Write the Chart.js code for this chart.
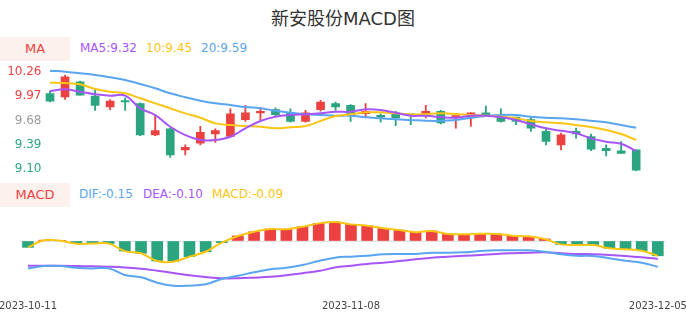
<!DOCTYPE html>
<html>
<head>
<meta charset="utf-8">
<script src="https://cdn.jsdelivr.net/npm/chart.js@4.4.0/dist/chart.umd.min.js"></script>
<style>
  html, body { margin: 0; padding: 0; background: #fff; }
  body { width: 686px; height: 320px; position: relative; overflow: hidden;
         font-family: "DejaVu Sans", "Noto Sans CJK SC", sans-serif; }
  #title { position: absolute; top: 4px; left: 0; width: 686px; text-align: center;
           font-size: 18px; color: #333; }
  .tag { position: absolute; left: 0; width: 70px; height: 24px; line-height: 24px;
         background: #fdf1ee; color: #ec4141; text-align: center; font-size: 13px; }
  .lg { position: absolute; font-size: 12px; white-space: nowrap; }
  canvas { position: absolute; }
</style>
</head>
<body>
<div id="title">新安股份MACD图</div>

<div class="tag" style="top:37px">MA</div>
<div class="lg" style="left:80px;top:41px;color:#a855f7">MA5:9.32</div>
<div class="lg" style="left:146px;top:41px;color:#fac515">10:9.45</div>
<div class="lg" style="left:201px;top:41px;color:#5aa5f0">20:9.59</div>

<div class="tag" style="top:183px">MACD</div>
<div class="lg" style="left:79px;top:187px;color:#5aa5f0">DIF:-0.15</div>
<div class="lg" style="left:143px;top:187px;color:#a855f7">DEA:-0.10</div>
<div class="lg" style="left:212px;top:187px;color:#fac515">MACD:-0.09</div>

<canvas id="kline" width="686" height="186" style="left:0;top:0"></canvas>
<canvas id="macdChart" width="726" height="120" style="left:-20px;top:200px"></canvas>

<script>
/* ── Data ───────────────────────────────────────────────────── */
const dates = [
    '2023-10-11', '2023-10-12', '2023-10-13', '2023-10-16', '2023-10-17', '2023-10-18', '2023-10-19',
    '2023-10-20', '2023-10-23', '2023-10-24', '2023-10-25', '2023-10-26', '2023-10-27', '2023-10-30',
    '2023-10-31', '2023-11-01', '2023-11-02', '2023-11-03', '2023-11-06', '2023-11-07', '2023-11-08',
    '2023-11-09', '2023-11-10', '2023-11-13', '2023-11-14', '2023-11-15', '2023-11-16', '2023-11-17',
    '2023-11-20', '2023-11-21', '2023-11-22', '2023-11-23', '2023-11-24', '2023-11-27', '2023-11-28',
    '2023-11-29', '2023-11-30', '2023-12-01', '2023-12-04', '2023-12-05',
];

const opens  = [10.00, 9.96, 10.14, 9.97, 9.84, 9.91, 9.88, 9.51, 9.58, 9.33,
                9.41, 9.52, 9.49, 9.69, 9.77, 9.81, 9.77, 9.67, 9.81, 9.88,
                9.86, 9.76, 9.74, 9.77, 9.75, 9.75, 9.79, 9.72, 9.71, 9.77,
                9.72, 9.72, 9.69, 9.55, 9.39, 9.55, 9.49, 9.35, 9.32, 9.33];
const closes = [9.91, 10.20, 9.98, 9.86, 9.91, 9.90, 9.51, 9.56, 9.27, 9.36,
                9.54, 9.56, 9.76, 9.77, 9.78, 9.75, 9.67, 9.77, 9.90, 9.84,
                9.75, 9.79, 9.72, 9.71, 9.74, 9.79, 9.65, 9.73, 9.77, 9.74,
                9.67, 9.67, 9.59, 9.43, 9.51, 9.52, 9.34, 9.32, 9.29, 9.09];
const highs  = [10.03, 10.22, 10.15, 10.06, 9.93, 9.95, 9.89, 9.75, 9.59, 9.39,
                9.61, 9.58, 9.82, 9.86, 9.83, 9.83, 9.82, 9.80, 9.92, 9.90,
                9.87, 9.88, 9.76, 9.79, 9.76, 9.86, 9.80, 9.73, 9.77, 9.85,
                9.82, 9.72, 9.72, 9.59, 9.53, 9.59, 9.52, 9.39, 9.43, 9.33];
const lows   = [9.90, 9.93, 9.98, 9.80, 9.81, 9.80, 9.50, 9.50, 9.24, 9.27,
                9.39, 9.42, 9.48, 9.67, 9.69, 9.73, 9.66, 9.66, 9.79, 9.80,
                9.67, 9.72, 9.66, 9.62, 9.63, 9.71, 9.64, 9.59, 9.61, 9.73,
                9.66, 9.63, 9.55, 9.39, 9.33, 9.47, 9.32, 9.26, 9.29, 9.08];

const ma5  = [10.030, 10.050, 10.022, 9.991, 9.975, 9.975, 9.825, 9.745, 9.606, 9.507,
              9.448, 9.448, 9.487, 9.587, 9.674, 9.725, 9.745, 9.753, 9.765, 9.784,
              9.784, 9.813, 9.805, 9.772, 9.737, 9.737, 9.721, 9.713, 9.737, 9.737,
              9.718, 9.686, 9.635, 9.587, 9.558, 9.528, 9.468, 9.428, 9.404, 9.317];
const ma10 = [10.129, 10.126, 10.110, 10.054, 10.022, 10.003, 9.944, 9.884, 9.825, 9.765,
              9.713, 9.646, 9.626, 9.614, 9.606, 9.587, 9.599, 9.614, 9.674, 9.733,
              9.753, 9.777, 9.777, 9.765, 9.753, 9.757, 9.765, 9.757, 9.745, 9.737,
              9.725, 9.706, 9.674, 9.658, 9.646, 9.626, 9.602, 9.567, 9.519, 9.448];
const ma20 = [10.272, 10.260, 10.241, 10.221, 10.193, 10.161, 10.114, 10.063, 10.003, 9.956,
              9.915, 9.884, 9.864, 9.840, 9.825, 9.796, 9.772, 9.753, 9.745, 9.737,
              9.737, 9.718, 9.706, 9.694, 9.686, 9.677, 9.676, 9.686, 9.713, 9.733,
              9.745, 9.745, 9.725, 9.713, 9.706, 9.694, 9.677, 9.658, 9.626, 9.594];

const dif  = [-0.163, -0.149, -0.149, -0.159, -0.163, -0.163, -0.202, -0.216, -0.248, -0.266,
              -0.266, -0.258, -0.226, -0.207, -0.186, -0.168, -0.159, -0.143, -0.119, -0.099,
              -0.093, -0.088, -0.079, -0.077, -0.077, -0.070, -0.070, -0.067, -0.060, -0.055,
              -0.055, -0.055, -0.064, -0.079, -0.088, -0.089, -0.103, -0.117, -0.129, -0.153];
const dea  = [-0.147, -0.147, -0.147, -0.149, -0.151, -0.153, -0.157, -0.165, -0.177, -0.190,
              -0.204, -0.214, -0.222, -0.222, -0.218, -0.213, -0.204, -0.192, -0.179, -0.158,
              -0.147, -0.137, -0.129, -0.119, -0.109, -0.099, -0.093, -0.088, -0.083, -0.077,
              -0.073, -0.070, -0.067, -0.073, -0.077, -0.079, -0.083, -0.089, -0.097, -0.107];
const macd = [-0.038, 0.005, 0.002, -0.016, -0.015, -0.015, -0.060, -0.073, -0.119, -0.123,
              -0.093, -0.064, -0.010, 0.030, 0.055, 0.071, 0.070, 0.085, 0.105, 0.113,
              0.099, 0.091, 0.076, 0.065, 0.052, 0.060, 0.042, 0.040, 0.043, 0.042,
              0.032, 0.028, 0.012, -0.020, -0.024, -0.024, -0.043, -0.049, -0.058, -0.088];

const priceTicks      = [9.10, 9.39, 9.68, 9.97, 10.26];
const priceTickColors = ['#2ba57f', '#2ba57f', '#9a9a9a', '#ec4141', '#ec4141'];
const dateTicks       = ['2023-10-11', '2023-11-08', '2023-12-05'];

/* ── Palette ────────────────────────────────────────────────── */
const palette = {
    up:     '#ec4141',
    down:   '#2ba57f',
    purple: '#a855f7',
    yellow: '#fac515',
    blue:   '#5aa5f0',
    zero:   '#e3e3e3',
    text:   '#444',
};

function lineSet(label, data, color) {
    return {
        type: 'line', label, data,
        borderColor: color, borderWidth: 2,
        pointRadius: 0, tension: 0.4, order: 0,
    };
}

/* ── K-line chart ───────────────────────────────────────────── */
const candleColors = opens.map((o, i) => closes[i] >= o ? palette.up : palette.down);

new Chart(document.getElementById('kline'), {
    type: 'bar',
    data: {
        labels: dates,
        datasets: [
            lineSet('MA5', ma5, palette.purple),
            lineSet('MA10', ma10, palette.yellow),
            lineSet('MA20', ma20, palette.blue),
            {
                label: 'body',
                data: opens.map((o, i) => [o, closes[i]]),
                backgroundColor: candleColors,
                barThickness: 8, minBarLength: 1.5,
                grouped: false, order: 1,
            },
            {
                label: 'wick',
                data: lows.map((l, i) => [l, highs[i]]),
                backgroundColor: candleColors,
                barThickness: 1.2,
                grouped: false, order: 2,
            },
        ],
    },
    options: {
        responsive: false,
        animation: false,
        events: [],
        layout: { padding: { top: 62, bottom: 10, left: 0, right: 42.3 } },
        plugins: { legend: { display: false }, tooltip: { enabled: false } },
        scales: {
            x: { display: false, offset: true },
            y: {
                min: 9.0204, max: 10.3753,
                afterFit: s => { s.width = 42.5; },
                afterBuildTicks: s => { s.ticks = priceTicks.map(v => ({ value: v })); },
                grid: { display: false, drawTicks: false },
                border: { display: false },
                ticks: {
                    padding: 1,
                    color: c => priceTickColors[c.index],
                    font: { size: 12, family: 'DejaVu Sans' },
                    callback: v => v.toFixed(2),
                },
            },
        },
    },
});

/* ── MACD chart ─────────────────────────────────────────────── */
new Chart(document.getElementById('macdChart'), {
    type: 'bar',
    data: {
        labels: dates,
        datasets: [
            lineSet('MACD', macd, palette.yellow),
            lineSet('DIF', dif, palette.blue),
            lineSet('DEA', dea, palette.purple),
            {
                label: 'hist',
                data: macd,
                backgroundColor: macd.map(v => v >= 0 ? palette.up : palette.down),
                barThickness: 11,
                grouped: false, order: 1,
            },
        ],
    },
    options: {
        responsive: false,
        animation: false,
        events: [],
        layout: { padding: { top: 15, bottom: 3, left: 39.9, right: 40.1 } },
        plugins: { legend: { display: false }, tooltip: { enabled: false } },
        scales: {
            x: {
                offset: true,
                grid: { display: false, drawTicks: false },
                border: { display: false },
                ticks: {
                    autoSkip: false, maxRotation: 0, minRotation: 0, padding: 5,
                    color: palette.text,
                    font: { size: 10, family: 'DejaVu Sans' },
                    callback: (v, i) => dateTicks.includes(dates[i]) ? dates[i] : '',
                },
            },
            y: {
                min: -0.3214, max: 0.1548,
                afterFit: s => { s.width = 0; },
                afterBuildTicks: s => { s.ticks = [{ value: 0 }]; },
                grid: { color: palette.zero, drawTicks: false },
                border: { display: false },
                ticks: { display: false },
            },
        },
    },
});
</script>
</body>
</html>
